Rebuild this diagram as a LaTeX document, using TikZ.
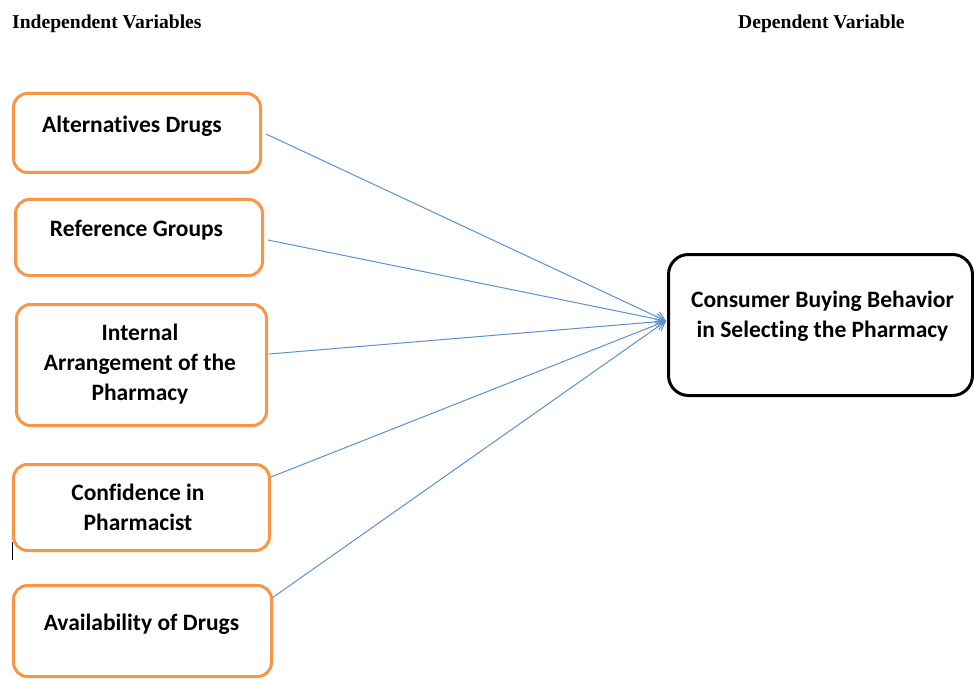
\documentclass[tikz,border=0pt]{standalone}
\usepackage{fontspec}
\setmainfont{Carlito}[Ligatures={NoCommon,NoContextual}]
\newfontfamily\headfont{Liberation Serif}
\usetikzlibrary{arrows.meta}
\definecolor{boxorange}{RGB}{247,150,70}
\definecolor{arrowblue}{RGB}{91,145,210}
\tikzset{
  ivbox/.style={draw=boxorange, line width=3pt, rounded corners=14pt, inner sep=0pt, fill=white},
  dvbox/.style={draw=black, line width=3pt, rounded corners=20pt, inner sep=0pt, fill=white},
  boxtext/.style={font=\bfseries\fontsize{23.5}{30}\selectfont, align=center, inner sep=0pt},
  headtext/.style={font=\headfont\bfseries\fontsize{19.6}{22}\selectfont, inner sep=0pt, anchor=base west},
  link/.style={draw=arrowblue, line width=1pt, -{Straight Barb[length=9pt,width=11pt]}}
}
\begin{document}
\begin{tikzpicture}[x=1pt,y=-1pt]
\useasboundingbox (0,0) rectangle (974,679);
\clip (0,0) rectangle (974,679);
\fill[white] (0,0) rectangle (974,679);

\node[headtext] (hind) at (12,29) {Independent Variables};
\node[headtext] (hdep) at (738,29) {Dependent Variable};

\node[ivbox, minimum width=247pt, minimum height=79pt] (b1) at (137,133) {};
\node[ivbox, minimum width=247pt, minimum height=76pt] (b2) at (139,237.5) {};
\node[ivbox, minimum width=250pt, minimum height=121pt] (b3) at (141.5,365) {};
\node[ivbox, minimum width=256pt, minimum height=86pt] (b4) at (141.5,507.5) {};
\node[ivbox, minimum width=258pt, minimum height=91pt] (b5) at (142.5,631) {};
\node[dvbox, minimum width=304pt, minimum height=141pt] (dv) at (820.5,325) {};

\node[boxtext] (t1) at (132,126) {Alternatives Drugs};
\node[boxtext] (t2) at (136.5,230) {Reference Groups};
\node[boxtext] (t3) at (140,364) {Internal\\Arrangement of the\\Pharmacy};
\node[boxtext] (t4) at (138,507.5) {Confidence in\\Pharmacist};
\node[boxtext] (t5) at (141.5,624) {Availability of Drugs};
\node[boxtext] (tdv) at (822.5,316.5) {Consumer Buying Behavior\\in Selecting the Pharmacy};

\coordinate (s1) at (266,134);
\coordinate (s2) at (268,240);
\coordinate (s3) at (269,354);
\coordinate (s4) at (271,477);
\coordinate (s5) at (272,598);
\coordinate (tg) at (666,321);

\foreach \s in {s1,s2,s3,s4,s5}{
  \draw[link] (\s) -- (tg);
}

\draw[black, line width=1pt] (12,542) -- (12,560);
\end{tikzpicture}
\end{document}
